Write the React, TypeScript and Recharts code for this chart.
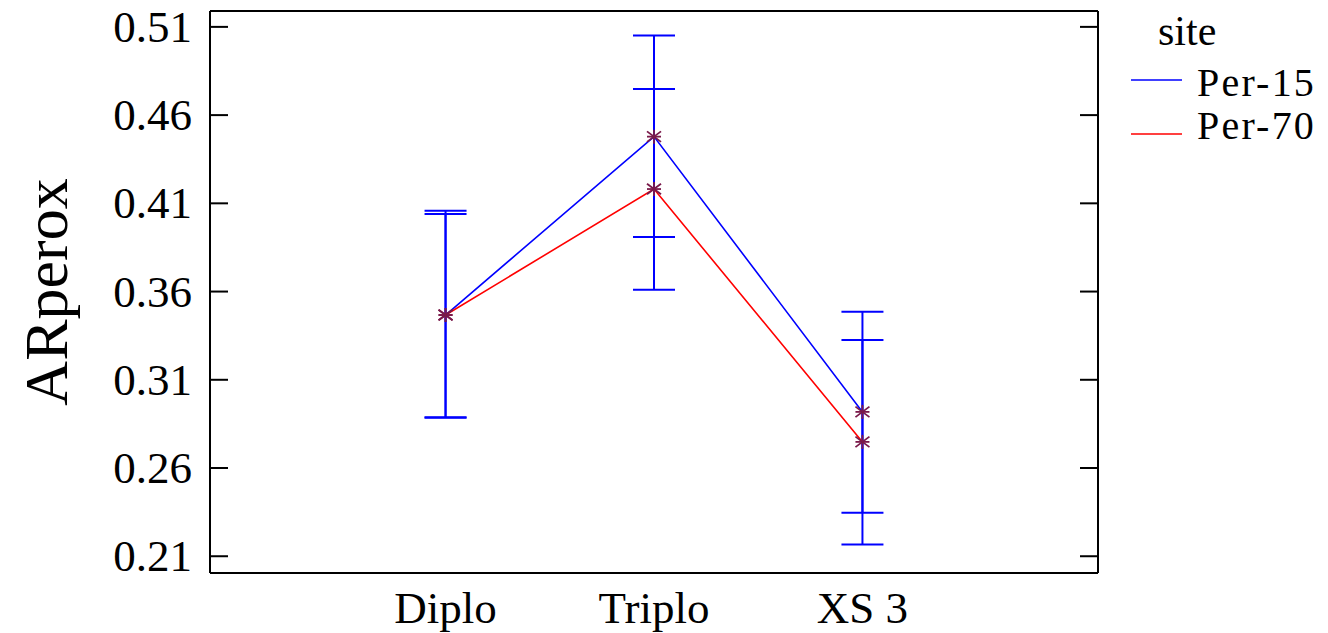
import React from 'react';
import {
  ComposedChart,
  Line,
  XAxis,
  YAxis,
  ErrorBar,
  Legend,
  Label,
} from 'recharts';

const categories = ['Diplo', 'Triplo', 'XS 3'];
const categoryPositions = [1, 2, 3];

const per15Mean = [0.3467, 0.4478, 0.2918];
const per15Low = [0.2885, 0.3909, 0.2346];
const per15High = [0.4058, 0.5051, 0.3486];

const per70Mean = [0.3467, 0.4181, 0.2748];
const per70Low = [0.2887, 0.361, 0.2167];
const per70High = [0.404, 0.4748, 0.3325];

const yTicks = [0.21, 0.26, 0.31, 0.36, 0.41, 0.46, 0.51];
const yDomain = [0.2005, 0.519];
const xDomain = [-0.13, 4.13];

const seriesNames = ['Per-15', 'Per-70'];
const seriesColors = ['#0000ff', '#ff0000'];
const legendTitle = 'site';
const yAxisTitle = 'ARperox';

const data = categories.map((c, i) => ({
  pos: categoryPositions[i],
  name: c,
  p15: per15Mean[i],
  p15err: [per15Mean[i] - per15Low[i], per15High[i] - per15Mean[i]],
  p70: per70Mean[i],
  p70err: [per70Mean[i] - per70Low[i], per70High[i] - per70Mean[i]],
}));

const FONT = '"Liberation Serif", "Times New Roman", serif';
const TICK_LEN = 18;

const AsteriskDot = (props: any) => {
  const { cx, cy } = props;
  if (cx == null || cy == null) return null;
  const r = 7;
  const c = '#7a1a4a';
  return (
    <g>
      <line x1={cx - r} y1={cy - r * 0.75} x2={cx + r} y2={cy + r * 0.75} stroke={c} strokeWidth={1.8} />
      <line x1={cx - r} y1={cy + r * 0.75} x2={cx + r} y2={cy - r * 0.75} stroke={c} strokeWidth={1.8} />
      <line x1={cx - r} y1={cy} x2={cx + r} y2={cy} stroke={c} strokeWidth={1.8} />
      <line x1={cx} y1={cy - r} x2={cx} y2={cy + r} stroke={c} strokeWidth={1.8} />
    </g>
  );
};

const LeftTick = (props: any) => {
  const { x, y, payload } = props;
  return (
    <g>
      <line x1={x} y1={y} x2={x + TICK_LEN} y2={y} stroke="#000" strokeWidth={2} />
      <text
        x={x - 18}
        y={y}
        textAnchor="end"
        dominantBaseline="central"
        fontFamily={FONT}
        fontSize={45}
        fill="#000"
      >
        {Number(payload.value).toFixed(2)}
      </text>
    </g>
  );
};

const RightTick = (props: any) => {
  const { x, y } = props;
  return <line x1={x - TICK_LEN} y1={y} x2={x} y2={y} stroke="#000" strokeWidth={2} />;
};

const BottomTick = (props: any) => {
  const { x, y, payload } = props;
  const idx = categoryPositions.indexOf(payload.value);
  return (
    <text
      x={x}
      y={y + 50}
      textAnchor="middle"
      fontFamily={FONT}
      fontSize={45}
      fill="#000"
    >
      {idx >= 0 ? categories[idx] : ''}
    </text>
  );
};

const LegendContent = () => (
  <svg width={208} height={160} style={{ display: 'block' }}>
    <text x={38} y={45} fontFamily={FONT} fontSize={42} fill="#000">
      {legendTitle}
    </text>
    {seriesNames.map((n, i) => {
      const lineY = i === 0 ? 80 : 134;
      const textY = i === 0 ? 96 : 139;
      return (
        <g key={n}>
          <line x1={11} y1={lineY} x2={62} y2={lineY} stroke={seriesColors[i]} strokeWidth={1.5} />
          <text x={77} y={textY} fontFamily={FONT} fontSize={40} letterSpacing={2.2} fill="#000">
            {n}
          </text>
        </g>
      );
    })}
  </svg>
);

export default function App() {
  return (
    <div style={{ position: 'absolute', left: 0, top: 0, width: 1328, height: 633, background: '#fff' }}>
      <ComposedChart
        width={1328}
        height={633}
        data={data}
        margin={{ top: 10, right: 0, bottom: 0, left: 0 }}
      >
        <XAxis
          dataKey="pos"
          type="number"
          domain={xDomain}
          ticks={categoryPositions}
          allowDataOverflow
          height={60}
          tickSize={0}
          tickMargin={0}
          tick={<BottomTick />}
          axisLine={{ stroke: '#000', strokeWidth: 2 }}
          tickLine={false}
        />
        <XAxis
          xAxisId="top"
          orientation="top"
          type="number"
          domain={xDomain}
          allowDataOverflow
          height={1}
          tick={false}
          tickLine={false}
          axisLine={{ stroke: '#000', strokeWidth: 2 }}
        />
        <YAxis
          type="number"
          domain={yDomain}
          ticks={yTicks}
          allowDataOverflow
          width={210}
          tickSize={0}
          tickMargin={0}
          tick={<LeftTick />}
          tickLine={false}
          axisLine={{ stroke: '#000', strokeWidth: 2 }}
        >
          <Label
            content={(p: any) => {
              const vb = p.viewBox || {};
              const cx = (vb.x || 0) + 46;
              const cy = (vb.y || 0) + (vb.height || 0) / 2;
              return (
                <text
                  x={cx}
                  y={cy}
                  transform={`rotate(-90 ${cx} ${cy})`}
                  textAnchor="middle"
                  dominantBaseline="central"
                  fontFamily={FONT}
                  fontSize={62}
                  fill="#000"
                >
                  {yAxisTitle}
                </text>
              );
            }}
          />
        </YAxis>
        <YAxis
          yAxisId="right"
          orientation="right"
          type="number"
          domain={yDomain}
          ticks={yTicks}
          allowDataOverflow
          width={230}
          tickSize={0}
          tickMargin={0}
          tick={<RightTick />}
          tickLine={false}
          axisLine={{ stroke: '#000', strokeWidth: 2 }}
        />
        <Legend
          layout="vertical"
          align="center"
          verticalAlign="middle"
          wrapperStyle={{ left: 1120, top: 0, width: 208, height: 160 }}
          content={<LegendContent />}
        />
        <Line
          dataKey="p15"
          name={seriesNames[0]}
          stroke={seriesColors[0]}
          strokeWidth={1.6}
          type="linear"
          dot={<AsteriskDot />}
          activeDot={false}
          isAnimationActive={false}
        >
          <ErrorBar dataKey="p15err" direction="y" width={21} stroke="#0000ff" strokeWidth={2} isAnimationActive={false} />
        </Line>
        <Line
          dataKey="p70"
          name={seriesNames[1]}
          stroke={seriesColors[1]}
          strokeWidth={1.6}
          type="linear"
          dot={<AsteriskDot />}
          activeDot={false}
          isAnimationActive={false}
        >
          <ErrorBar dataKey="p70err" direction="y" width={21} stroke="#0000ff" strokeWidth={2} isAnimationActive={false} />
        </Line>
      </ComposedChart>
    </div>
  );
}
